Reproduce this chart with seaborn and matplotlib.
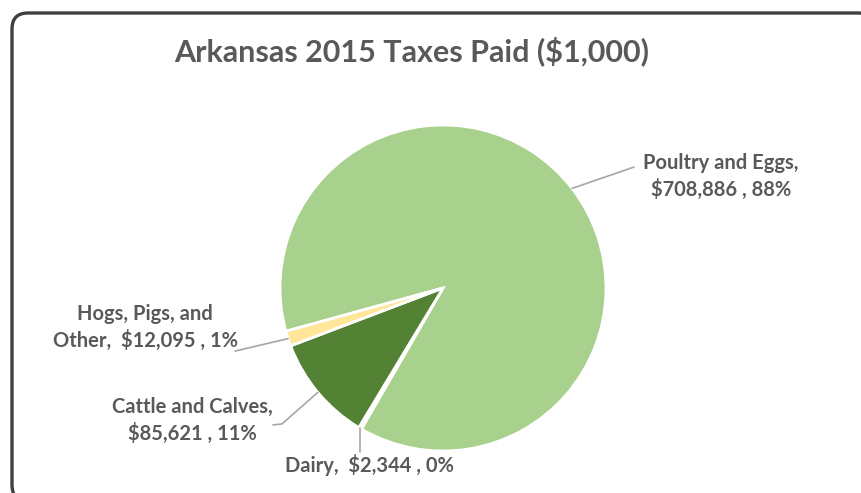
import numpy as np
import matplotlib
matplotlib.use("Agg")
import matplotlib.pyplot as plt
from matplotlib.patches import FancyBboxPatch
import seaborn as sns

# ---- data ----
categories = ["Poultry and Eggs", "Dairy", "Cattle and Calves", "Hogs, Pigs, and Other"]
values = [708886, 2344, 85621, 12095]
pct_labels = ["88%", "0%", "11%", "1%"]
label_texts = [
    "Poultry and Eggs,\n$708,886 , 88%",
    "Dairy,  $2,344 , 0%",
    "Cattle and Calves,\n$85,621 , 11%",
    "Hogs, Pigs, and\nOther,  $12,095 , 1%",
]
title = "Arkansas 2015 Taxes Paid ($1,000)"

colors = ["#A9D18E", "#70AD47", "#548235", "#FFE699"]

sns.set_theme(style="white")
plt.rcParams["font.family"] = ["Lato", "DejaVu Sans"]

W, H = 862, 493
fig = plt.figure(figsize=(W / 100, H / 100), dpi=100)

# background frame
bg = fig.add_axes([0, 0, 1, 1])
bg.set_xlim(0, W)
bg.set_ylim(H, 0)
bg.axis("off")
bg.add_patch(FancyBboxPatch((12, 13), 862, 488,
                            boxstyle="round,pad=0,rounding_size=16",
                            lw=2.4, ec="#404040", fc="white"))
bg.text(412, 51, title, ha="center", va="center", fontsize=22,
        fontweight="bold", color="#595959")

# pie axes: center (443, 288) px, radius 163 px
cx, cy, r = 443, 288, 163
ax = fig.add_axes([(cx - r) / W, (H - cy - r) / H, 2 * r / W, 2 * r / H])

start = 195.4
wedges, _ = ax.pie(values, colors=colors, startangle=start, counterclock=False,
                   radius=1.0, wedgeprops=dict(edgecolor="white", linewidth=2.0))
ax.set_xlim(-1, 1)
ax.set_ylim(-1, 1)
ax.axis("off")

# label layout (data coords relative to pie)
text_pos = [(1.706, 0.687), (-0.45, -1.086), (-1.54, -0.81), (-1.828, -0.245)]
line_end = [[(1.172, 0.742)], [(-0.497, -1.006)],
            [(-0.988, -0.834), (-1.043, -0.84)], [(-1.276, -0.387)]]

for w, txt, tp, le in zip(wedges, label_texts, text_pos, line_end):
    mid = np.deg2rad((w.theta1 + w.theta2) / 2)
    x0, y0 = np.cos(mid), np.sin(mid)
    xs = [x0] + [p[0] for p in le]
    ys = [y0] + [p[1] for p in le]
    if txt.startswith("Dairy"):
        xs = [x0, x0]
        ys = [y0, le[0][1]]
    ax.plot(xs, ys, color="#A6A6A6", lw=1.2, clip_on=False)
    ax.text(tp[0], tp[1], txt, ha="center", va="center", fontsize=14.5,
            fontweight="bold", color="#595959", linespacing=1.35, clip_on=False)

fig.savefig("out.png", dpi=100)
